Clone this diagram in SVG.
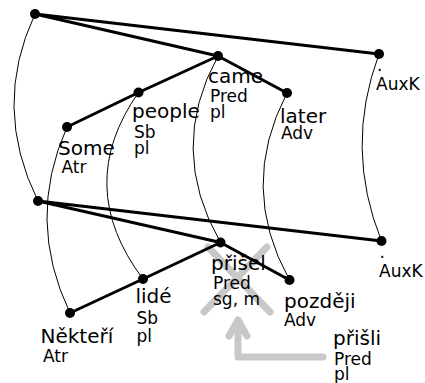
<svg xmlns="http://www.w3.org/2000/svg" width="425" height="383" viewBox="0 0 425 383">
<style>
.edge{stroke:#000;stroke-width:3;fill:none;stroke-linecap:round}
.arc{stroke:#000;stroke-width:1;fill:none}
.gray{stroke:#c8c8c8;stroke-width:7;fill:none;stroke-linecap:round;stroke-linejoin:round}
.node{fill:#000}
text{font-family:"DejaVu Sans",sans-serif;fill:#000}
.w{font-size:20px}
.s{font-size:17px}
</style>
<g id="markers">
<path class="gray" d="M208,247 L270,312 M267,247 L204,312"/>
<path class="gray" d="M323,357 L238,357 L238,320 M229,336 L238,320 L247,336"/>
</g>
<g id="connectors">
<path class="arc" d="M35,14 Q-8.5,107 38,201"/>
<path class="arc" d="M67,127 Q25.5,220 70,313"/>
<path class="arc" d="M138.5,92.5 Q73,186 143,279"/>
<path class="arc" d="M218,56 Q167,149 220.5,242.5"/>
<path class="arc" d="M287,93 Q238,187 289.5,280"/>
<path class="arc" d="M379,54 Q344,148 381.5,241"/>
<path class="edge" d="M35,14 L218,56 M35,14 L379,54 M218,56 L138.5,92.5 M218,56 L287,93 M138.5,92.5 L67,127"/>
<path class="edge" d="M38,201 L220.5,242.5 M38,201 L381.5,241 M220.5,242.5 L143,279 M220.5,242.5 L289.5,280 M143,279 L70,313"/>
</g>
<g id="root1"><circle class="node" cx="35" cy="14" r="5"/></g>
<g id="came"><circle class="node" cx="218" cy="56" r="5"/><text class="w" x="208" y="83">came</text><text class="s" x="210" y="101.5">Pred</text><text class="s" x="210" y="118">pl</text></g>
<g id="auxk1"><circle class="node" cx="379" cy="54" r="5"/><text class="s" x="377" y="71">.</text><text class="s" x="376" y="90">AuxK</text></g>
<g id="people"><circle class="node" cx="138.5" cy="92.5" r="5"/><text class="w" x="132" y="118">people</text><text class="s" x="134" y="137.5">Sb</text><text class="s" x="134" y="154">pl</text></g>
<g id="later"><circle class="node" cx="287" cy="93" r="5"/><text class="w" x="280" y="123">later</text><text class="s" x="281" y="139">Adv</text></g>
<g id="some"><circle class="node" cx="67" cy="127" r="5"/><text class="w" x="58" y="155">Some</text><text class="s" x="61.5" y="173">Atr</text></g>
<g id="root2"><circle class="node" cx="38" cy="201" r="5"/></g>
<g id="prisel"><circle class="node" cx="220.5" cy="242.5" r="5"/><text class="w" x="211" y="270">přišel</text><text class="s" x="213" y="288.5">Pred</text><text class="s" x="213" y="305">sg, m</text></g>
<g id="auxk2"><circle class="node" cx="381.5" cy="241" r="5"/><text class="s" x="379.5" y="258">.</text><text class="s" x="379" y="277">AuxK</text></g>
<g id="lide"><circle class="node" cx="143" cy="279" r="5"/><text class="w" x="135.5" y="303">lidé</text><text class="s" x="136.5" y="324">Sb</text><text class="s" x="136.5" y="341.5">pl</text></g>
<g id="pozdeji"><circle class="node" cx="289.5" cy="280" r="5"/><text class="w" x="284" y="308">později</text><text class="s" x="284" y="325.5">Adv</text></g>
<g id="nekteri"><circle class="node" cx="70" cy="313" r="5"/><text class="w" x="40.5" y="343">Někteří</text><text class="s" x="43" y="361.5">Atr</text></g>
<g id="prisli"><text class="w" x="333" y="345">přišli</text><text class="s" x="334" y="364.5">Pred</text><text class="s" x="334" y="380">pl</text></g>
</svg>
